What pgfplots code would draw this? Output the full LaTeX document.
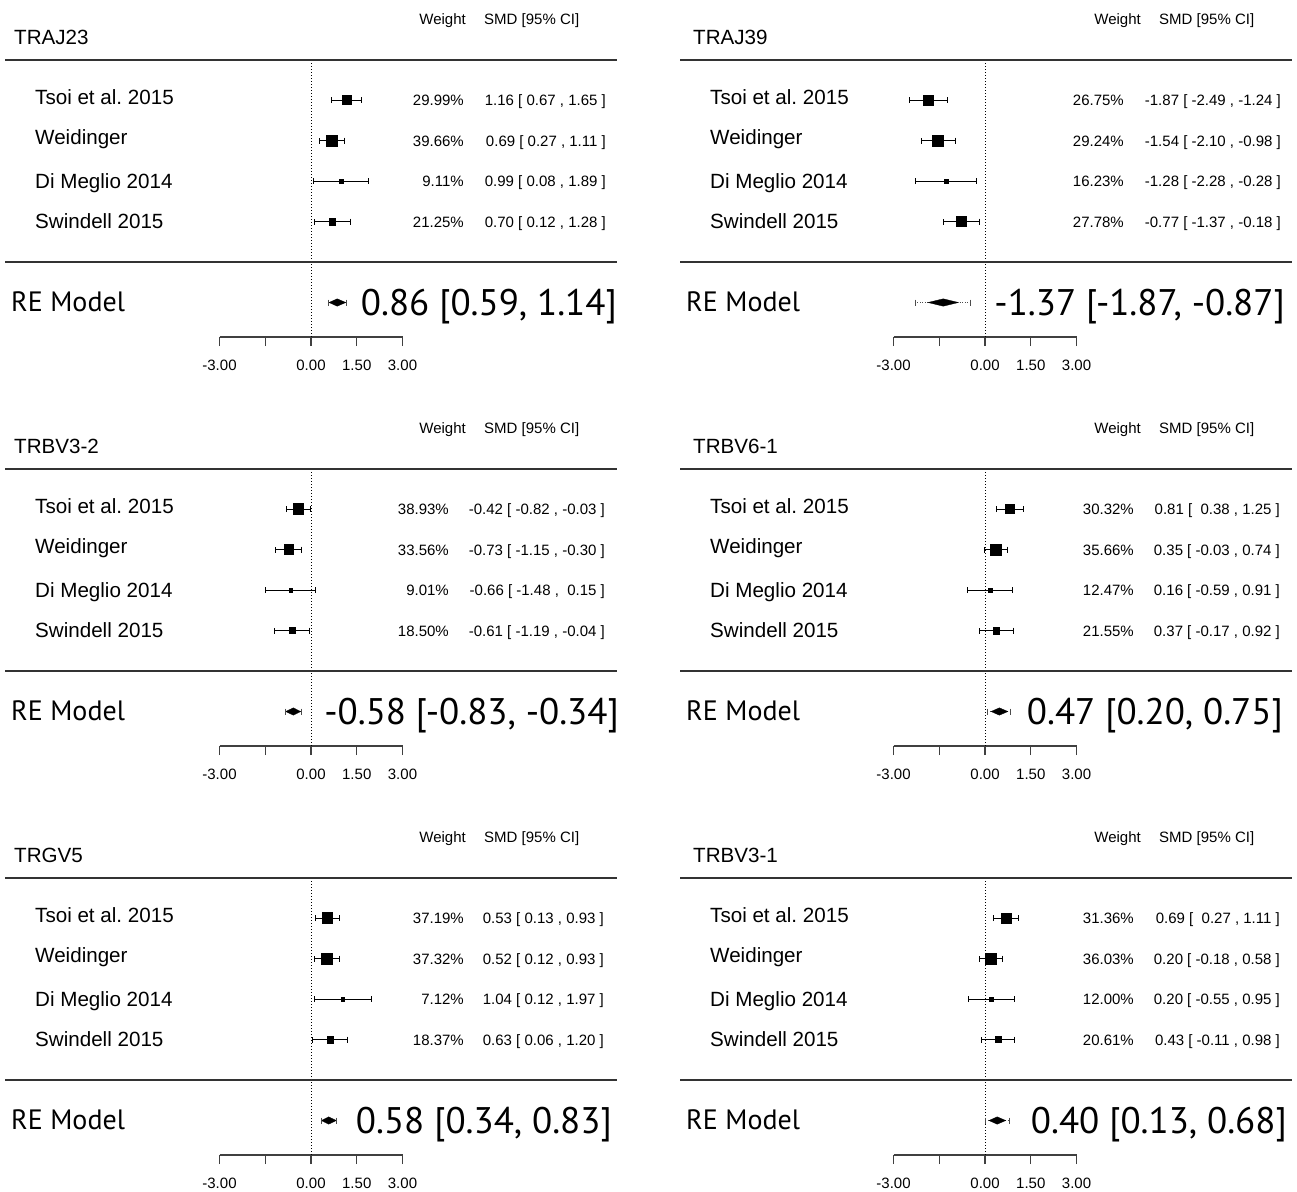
\documentclass[border=0pt]{standalone}
\usepackage{fontspec}
\setmainfont{Liberation Sans}
\newfontfamily\refont{PT Sans}
\usepackage{pgfplots}
\usepackage{pgfplotstable}
\pgfplotsset{compat=1.18}
\frenchspacing

\newcommand{\fsLab}{\fontsize{20.6}{24}\selectfont}
\newcommand{\fsSm}{\fontsize{15}{18}\selectfont}
\newcommand{\fsRE}{\refont\fontsize{28}{32}\selectfont}
\newcommand{\fsBig}{\refont\fontsize{37}{42}\selectfont}

% y: row position (pt below panel top, negative), x: SMD, lo/hi: 95% CI, w: weight (%)
\pgfplotstableread{
y x lo hi w
-100 1.16 0.67 1.65 29.99
-140.5 0.69 0.27 1.11 39.66
-181 0.99 0.08 1.89 9.11
-221.5 0.70 0.12 1.28 21.25
}\tA
\pgfplotstableread{
y x lo hi w
-100 -1.87 -2.49 -1.24 26.75
-140.5 -1.54 -2.10 -0.98 29.24
-181 -1.28 -2.28 -0.28 16.23
-221.5 -0.77 -1.37 -0.18 27.78
}\tB
\pgfplotstableread{
y x lo hi w
-100 -0.42 -0.82 -0.03 38.93
-140.5 -0.73 -1.15 -0.30 33.56
-181 -0.66 -1.48 0.15 9.01
-221.5 -0.61 -1.19 -0.04 18.50
}\tC
\pgfplotstableread{
y x lo hi w
-100 0.81 0.38 1.25 30.32
-140.5 0.35 -0.03 0.74 35.66
-181 0.16 -0.59 0.91 12.47
-221.5 0.37 -0.17 0.92 21.55
}\tD
\pgfplotstableread{
y x lo hi w
-100 0.53 0.13 0.93 37.19
-140.5 0.52 0.12 0.93 37.32
-181 1.04 0.12 1.97 7.12
-221.5 0.63 0.06 1.20 18.37
}\tE
\pgfplotstableread{
y x lo hi w
-100 0.69 0.27 1.11 31.36
-140.5 0.20 -0.18 0.58 36.03
-181 0.20 -0.55 0.95 12.00
-221.5 0.43 -0.11 0.98 20.61
}\tF

\pgfplotsset{
 forest/.style={x=30.5pt, y=1pt, xmin=-3, xmax=3, ymin=-337, ymax=-60,
   anchor=south west, clip=false,
   axis x line=bottom, axis y line=none,
   axis line style={-, line width=1.2pt, draw=black!75},
   xtick={-3,-1.5,0,1.5,3}, xticklabels={-3.00,,0.00,1.50,3.00},
   tick align=outside, major tick length=9pt,
   tick style={line width=1.2pt, draw=black!75},
   xticklabel style={font=\fsSm, text=black, yshift=-10pt},
 },
 studies/.style={only marks, mark=square*, scatter,
   scatter/use mapped color={draw=black, fill=black},
   visualization depends on={3.65*(0.5+(\thisrow{w}-\wmin)/(\wmax-\wmin)) \as \ms},
   scatter/@pre marker code/.append style={/tikz/mark size=\ms pt},
   error bars/.cd, x dir=both, x explicit, error mark=|,
   error bar style={line width=0.9pt, black},
   error mark options={black, mark size=3pt, line width=0.9pt}},
}

\newcommand{\zeroline}{\addplot[black, line width=0.9pt, dash pattern=on 1pt off 2pt] coordinates {(0,-60) (0,-337)};}
% #1 est, #2 lo, #3 hi, #4 PI lo, #5 PI hi
\newcommand{\remodel}[5]{%
  \addplot[black!70, line width=0.6pt, dash pattern=on 1pt off 1.5pt] coordinates {(#4,-302.5) (#5,-302.5)};
  \addplot[black!70, only marks, mark=|, mark size=3pt, mark options={solid, line width=0.6pt}] coordinates {(#4,-302.5) (#5,-302.5)};
  \addplot[fill=black, draw=black, line width=0.3pt] coordinates {(#2,-302.5) (#1,-298.8) (#3,-302.5) (#1,-306.2)} -- cycle;
}
\newcommand{\studyplot}[1]{\addplot[studies] table[x=x, y=y, x error plus expr=\thisrow{hi}-\thisrow{x}, x error minus expr=\thisrow{x}-\thisrow{lo}] {#1};}

% #1 ox, #2 oy, #3 title x, #4 title
\newcommand{\panelframe}[4]{%
  \draw[line width=1.4pt, black!80] (#1+5,-#2-60) -- (#1+617,-#2-60);
  \draw[line width=1.4pt, black!80] (#1+5,-#2-262) -- (#1+617,-#2-262);
  \node[anchor=base west, font=\fsLab, inner sep=0] at (#3,-#2-44.5) {#4};
  \node[anchor=base east, font=\fsSm, inner sep=0] at (#1+466,-#2-24.5) {Weight};
  \node[anchor=base west, font=\fsSm, inner sep=0] at (#1+484,-#2-24.5) {SMD [95\% CI]};
  \node[anchor=base west, font=\fsLab, inner sep=0] at (#1+35,-#2-104.5) {Tsoi et al. 2015};
  \node[anchor=base west, font=\fsLab, inner sep=0] at (#1+35,-#2-144.5) {Weidinger};
  \node[anchor=base west, font=\fsLab, inner sep=0] at (#1+35,-#2-188) {Di Meglio 2014};
  \node[anchor=base west, font=\fsLab, inner sep=0] at (#1+35,-#2-228.5) {Swindell 2015};
  \node[anchor=base west, font=\fsRE, inner sep=0] at (#1+11,-#2-311.5) {RE Model};
}
% #1 pct right x, #2 ci right x, #3 oy, #4 baseline, #5 pct, #6 ci
\newcommand{\ann}[6]{%
  \node[anchor=base east, font=\fsSm, inner sep=0] at (#1,-#3-#4) {#5};
  \node[anchor=base east, font=\fsSm, inner sep=0] at (#2,-#3-#4) {#6};
}
\newcommand{\renum}[3]{\node[anchor=base east, font=\fsBig, inner sep=0] at (#1,-#2-315) {#3};}

\begin{document}
\begin{tikzpicture}[x=1pt, y=1pt]
% ---------- TRAJ23 ----------
\def\wmin{9.11}\def\wmax{39.66}
\begin{axis}[forest, at={(219.5pt,-337pt)}]
\zeroline
\studyplot{\tA}
\remodel{0.86}{0.59}{1.14}{0.58}{1.17}
\end{axis}
\panelframe{0}{0}{14}{TRAJ23}
\ann{464}{606}{0}{105.5}{29.99\%}{1.16 [ 0.67 , 1.65 ]}
\ann{464}{606}{0}{146}{39.66\%}{0.69 [ 0.27 , 1.11 ]}
\ann{464}{606}{0}{186.5}{9.11\%}{0.99 [ 0.08 , 1.89 ]}
\ann{464}{606}{0}{227}{21.25\%}{0.70 [ 0.12 , 1.28 ]}
\renum{617}{0}{0.86 [0.59, 1.14]}
% ---------- TRAJ39 ----------
\def\wmin{16.23}\def\wmax{29.24}
\begin{axis}[forest, at={(893.5pt,-337pt)}]
\zeroline
\studyplot{\tB}
\remodel{-1.37}{-1.87}{-0.87}{-2.30}{-0.49}
\end{axis}
\panelframe{675}{0}{693}{TRAJ39}
\ann{1124}{1281}{0}{105.5}{26.75\%}{-1.87 [ -2.49 , -1.24 ]}
\ann{1124}{1281}{0}{146}{29.24\%}{-1.54 [ -2.10 , -0.98 ]}
\ann{1124}{1281}{0}{186.5}{16.23\%}{-1.28 [ -2.28 , -0.28 ]}
\ann{1124}{1281}{0}{227}{27.78\%}{-0.77 [ -1.37 , -0.18 ]}
\renum{1285}{0}{-1.37 [-1.87, -0.87]}
% ---------- TRBV3-2 ----------
\def\wmin{9.01}\def\wmax{38.93}
\begin{axis}[forest, at={(219.5pt,-746pt)}]
\zeroline
\studyplot{\tC}
\remodel{-0.58}{-0.83}{-0.34}{-0.84}{-0.33}
\end{axis}
\panelframe{0}{409}{14}{TRBV3-2}
\ann{449}{605}{409}{105.5}{38.93\%}{-0.42 [ -0.82 , -0.03 ]}
\ann{449}{605}{409}{146}{33.56\%}{-0.73 [ -1.15 , -0.30 ]}
\ann{449}{605}{409}{186.5}{9.01\%}{-0.66 [ -1.48 ,\ \ 0.15 ]}
\ann{449}{605}{409}{227}{18.50\%}{-0.61 [ -1.19 , -0.04 ]}
\renum{619}{409}{-0.58 [-0.83, -0.34]}
% ---------- TRBV6-1 ----------
\def\wmin{12.47}\def\wmax{35.66}
\begin{axis}[forest, at={(893.5pt,-746pt)}]
\zeroline
\studyplot{\tD}
\remodel{0.47}{0.20}{0.75}{0.08}{0.83}
\end{axis}
\panelframe{675}{409}{693}{TRBV6-1}
\ann{1134}{1280}{409}{105.5}{30.32\%}{0.81 [\ \ 0.38 , 1.25 ]}
\ann{1134}{1280}{409}{146}{35.66\%}{0.35 [ -0.03 , 0.74 ]}
\ann{1134}{1280}{409}{186.5}{12.47\%}{0.16 [ -0.59 , 0.91 ]}
\ann{1134}{1280}{409}{227}{21.55\%}{0.37 [ -0.17 , 0.92 ]}
\renum{1283}{409}{0.47 [0.20, 0.75]}
% ---------- TRGV5 ----------
\def\wmin{7.12}\def\wmax{37.32}
\begin{axis}[forest, at={(219.5pt,-1155pt)}]
\zeroline
\studyplot{\tE}
\remodel{0.58}{0.34}{0.83}{0.33}{0.84}
\end{axis}
\panelframe{0}{818}{14}{TRGV5}
\ann{464}{604}{818}{105.5}{37.19\%}{0.53 [ 0.13 , 0.93 ]}
\ann{464}{604}{818}{146}{37.32\%}{0.52 [ 0.12 , 0.93 ]}
\ann{464}{604}{818}{186.5}{7.12\%}{1.04 [ 0.12 , 1.97 ]}
\ann{464}{604}{818}{227}{18.37\%}{0.63 [ 0.06 , 1.20 ]}
\renum{612}{818}{0.58 [0.34, 0.83]}
% ---------- TRBV3-1 ----------
\def\wmin{12.00}\def\wmax{36.03}
\begin{axis}[forest, at={(893.5pt,-1155pt)}]
\zeroline
\studyplot{\tF}
\remodel{0.40}{0.13}{0.68}{0.01}{0.79}
\end{axis}
\panelframe{675}{818}{693}{TRBV3-1}
\ann{1134}{1280}{818}{105.5}{31.36\%}{0.69 [\ \ 0.27 , 1.11 ]}
\ann{1134}{1280}{818}{146}{36.03\%}{0.20 [ -0.18 , 0.58 ]}
\ann{1134}{1280}{818}{186.5}{12.00\%}{0.20 [ -0.55 , 0.95 ]}
\ann{1134}{1280}{818}{227}{20.61\%}{0.43 [ -0.11 , 0.98 ]}
\renum{1287}{818}{0.40 [0.13, 0.68]}
\pgfresetboundingbox
\path[use as bounding box] (0,0) rectangle (1297,-1191);
\end{tikzpicture}
\end{document}
